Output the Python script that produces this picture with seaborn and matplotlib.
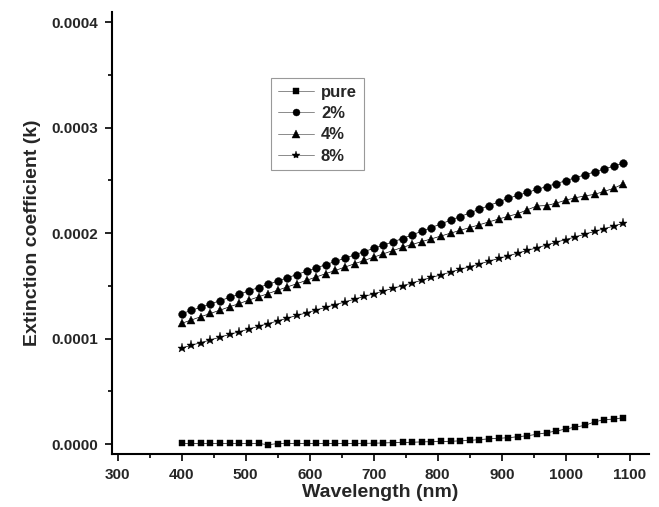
import matplotlib
matplotlib.use("Agg")
import matplotlib.pyplot as plt
from matplotlib.ticker import MultipleLocator, FormatStrFormatter
import pandas as pd
import seaborn as sns

# Wavelength grid (nm)
wavelength = [400, 415, 430, 445, 460, 475, 490, 505, 520, 535, 550, 565, 580, 595,
              610, 625, 640, 655, 670, 685, 700, 715, 730, 745, 760, 775, 790, 805,
              820, 835, 850, 865, 880, 895, 910, 925, 940, 955, 970, 985, 1000, 1015,
              1030, 1045, 1060, 1075, 1090]

# Extinction coefficient k for each film
k_pure = [0.5e-6, 0.5e-6, 0.5e-6, 0.5e-6, 0.5e-6, 0.5e-6, 0.5e-6, 0.5e-6, 0.5e-6, -0.6e-6,
          0.4e-6, 0.5e-6, 0.5e-6, 0.5e-6, 0.5e-6, 0.5e-6, 0.5e-6, 0.6e-6, 0.6e-6, 0.7e-6,
          0.8e-6, 1.0e-6, 1.3e-6, 1.5e-6, 1.7e-6, 2.0e-6, 2.2e-6, 2.4e-6, 2.6e-6, 3.0e-6,
          3.4e-6, 4.2e-6, 4.9e-6, 5.4e-6, 6.0e-6, 6.9e-6, 7.9e-6, 9.2e-6, 10.7e-6, 12.3e-6,
          14.2e-6, 16.1e-6, 17.7e-6, 21.0e-6, 23.1e-6, 23.7e-6, 25.0e-6]

k_2pct = [1.236e-4, 1.267e-4, 1.298e-4, 1.329e-4, 1.360e-4, 1.391e-4, 1.422e-4, 1.453e-4,
          1.484e-4, 1.515e-4, 1.546e-4, 1.577e-4, 1.608e-4, 1.639e-4, 1.670e-4, 1.701e-4,
          1.732e-4, 1.763e-4, 1.794e-4, 1.825e-4, 1.856e-4, 1.887e-4, 1.918e-4, 1.949e-4,
          1.984e-4, 2.018e-4, 2.053e-4, 2.088e-4, 2.123e-4, 2.157e-4, 2.192e-4, 2.227e-4,
          2.262e-4, 2.296e-4, 2.331e-4, 2.359e-4, 2.387e-4, 2.415e-4, 2.442e-4, 2.470e-4,
          2.498e-4, 2.526e-4, 2.554e-4, 2.581e-4, 2.609e-4, 2.637e-4, 2.665e-4]

k_4pct = [1.145e-4, 1.176e-4, 1.208e-4, 1.239e-4, 1.270e-4, 1.302e-4, 1.333e-4, 1.365e-4,
          1.396e-4, 1.427e-4, 1.459e-4, 1.490e-4, 1.521e-4, 1.553e-4, 1.584e-4, 1.616e-4,
          1.647e-4, 1.678e-4, 1.710e-4, 1.741e-4, 1.772e-4, 1.804e-4, 1.835e-4, 1.866e-4,
          1.893e-4, 1.920e-4, 1.946e-4, 1.973e-4, 2.000e-4, 2.027e-4, 2.053e-4, 2.080e-4,
          2.107e-4, 2.134e-4, 2.160e-4, 2.185e-4, 2.222e-4, 2.258e-4, 2.262e-4, 2.285e-4,
          2.313e-4, 2.336e-4, 2.354e-4, 2.368e-4, 2.397e-4, 2.425e-4, 2.470e-4]

k_8pct = [0.911e-4, 0.937e-4, 0.962e-4, 0.988e-4, 1.014e-4, 1.040e-4, 1.065e-4, 1.091e-4,
          1.117e-4, 1.142e-4, 1.168e-4, 1.194e-4, 1.220e-4, 1.245e-4, 1.271e-4, 1.297e-4,
          1.322e-4, 1.348e-4, 1.374e-4, 1.400e-4, 1.425e-4, 1.451e-4, 1.477e-4, 1.502e-4,
          1.528e-4, 1.554e-4, 1.580e-4, 1.605e-4, 1.631e-4, 1.657e-4, 1.682e-4, 1.708e-4,
          1.734e-4, 1.760e-4, 1.785e-4, 1.811e-4, 1.837e-4, 1.862e-4, 1.888e-4, 1.914e-4,
          1.940e-4, 1.965e-4, 1.991e-4, 2.017e-4, 2.042e-4, 2.068e-4, 2.094e-4]

samples = ["pure", "2%", "4%", "8%"]
series = [k_pure, k_2pct, k_4pct, k_8pct]

df = pd.concat(
    [pd.DataFrame({"wavelength": wavelength, "k": vals, "sample": name})
     for name, vals in zip(samples, series)],
    ignore_index=True,
)

sns.set_style("ticks")
plt.rcParams["font.family"] = ["Liberation Sans", "DejaVu Sans"]
plt.rcParams["font.weight"] = "bold"

marker_map = {"pure": "s", "2%": "o", "4%": "^", "8%": "*"}
size_map = {"s": 4.7, "o": 5.6, "^": 5.8, "*": 6.8}

fig = plt.figure(figsize=(6.59, 5.07), dpi=100)
ax = fig.add_axes([0.1704, 0.1051, 0.8144, 0.8718])

sns.lineplot(
    data=df, x="wavelength", y="k", hue="sample", style="sample",
    hue_order=samples, style_order=samples,
    palette=["black"] * 4, markers=marker_map, dashes=False,
    linewidth=0.5, markersize=5, markeredgecolor="black", markeredgewidth=0.3,
    errorbar=None, ax=ax,
)

for ln in ax.lines:
    m = ln.get_marker()
    if m in size_map:
        ln.set_markersize(size_map[m])

handles, labels = ax.get_legend_handles_labels()
for h in handles:
    m = h.get_marker()
    if m in size_map:
        h.set_markersize(size_map[m] * 0.9)
    h.set_linewidth(0.6)
    h.set_color("#777777")
    h.set_markerfacecolor("black")
    h.set_markeredgecolor("black")
ax.legend(
    handles, labels, loc="upper left", bbox_to_anchor=(0.2957, 0.85),
    borderaxespad=0, frameon=True, fancybox=False, framealpha=1,
    edgecolor="#999999", handlelength=2.2, handletextpad=0.4,
    labelspacing=0.38, borderpad=0.4,
    prop={"size": 12, "weight": "bold"},
)
ax.get_legend().get_frame().set_linewidth(0.8)

ax.set_xlim(291.6, 1130)
ax.set_ylim(-0.0000092, 0.0004101)
ax.xaxis.set_major_locator(MultipleLocator(100))
ax.xaxis.set_minor_locator(MultipleLocator(50))
ax.yaxis.set_major_locator(MultipleLocator(0.0001))
ax.yaxis.set_minor_locator(MultipleLocator(0.00005))
ax.yaxis.set_major_formatter(FormatStrFormatter("%.4f"))

ax.tick_params(which="major", direction="out", length=5, width=1.2, color="black",
               labelsize=11, pad=5)
ax.tick_params(which="minor", direction="out", length=3, width=1.2, color="black")
for lab in ax.get_xticklabels() + ax.get_yticklabels():
    lab.set_fontweight("bold")

for side in ("top", "right"):
    ax.spines[side].set_visible(False)
for side in ("left", "bottom"):
    ax.spines[side].set_linewidth(1.5)
    ax.spines[side].set_color("black")

ax.set_xlabel("Wavelength (nm)", fontsize=14, fontweight="bold", labelpad=2)
ax.set_ylabel("Extinction coefficient (k)", fontsize=14, fontweight="bold", labelpad=8)

fig.savefig("out.png", dpi=100)
